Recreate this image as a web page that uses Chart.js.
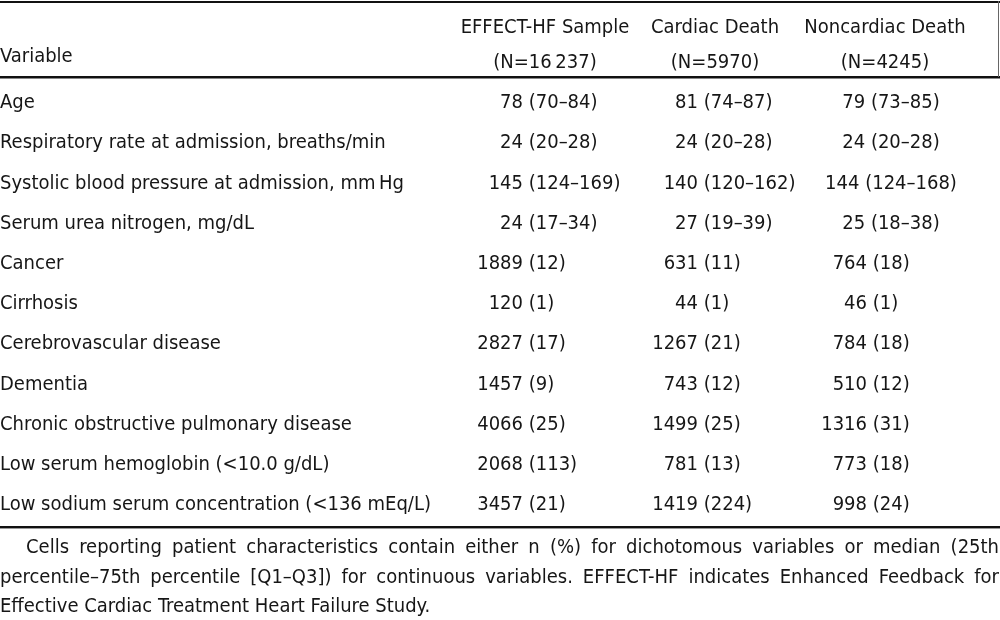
<!DOCTYPE html>
<html>
<head>
<meta charset="utf-8">
<script src="https://cdn.jsdelivr.net/npm/chart.js@4.4.1/dist/chart.umd.min.js"></script>
<style>
  html, body { margin: 0; padding: 0; background: #fff; }
  body { width: 1000px; height: 620px; position: relative; overflow: hidden;
         font-family: "DejaVu Sans Condensed", "Liberation Sans Narrow", sans-serif; color: #161616; }
  #wrap { position: absolute; left: 0; top: 1px; width: 1000px; height: 536px; }
  #note { position: absolute; left: 0; top: 532px; width: 999px; font-size: 20px; line-height: 29.5px; }
  #note div { white-space: nowrap; }
  #note .j { text-align: justify; text-align-last: justify; white-space: normal; }
  #note .first { text-indent: 26px; }
</style>
</head>
<body>
<div id="wrap"><canvas id="c"></canvas></div>
<div id="note">
  <div class="j first">Cells reporting patient characteristics contain either n (%) for dichotomous variables or median (25th</div>
  <div class="j">percentile–75th percentile [Q1–Q3]) for continuous variables. EFFECT-HF indicates Enhanced Feedback for</div>
  <div>Effective Cardiac Treatment Heart Failure Study.</div>
</div>
<script>
// ---- data ----
const variables = [
  'Age',
  'Respiratory rate at admission, breaths/min',
  'Systolic blood pressure at admission, mm\u2009Hg',
  'Serum urea nitrogen, mg/dL',
  'Cancer',
  'Cirrhosis',
  'Cerebrovascular disease',
  'Dementia',
  'Chronic obstructive pulmonary disease',
  'Low serum hemoglobin (<10.0 g/dL)',
  'Low sodium serum concentration (<136 mEq/L)'
];
const rowKinds = ['median','median','median','median','count','count','count','count','count','count','count'];
const groupNames = ['EFFECT-HF Sample', 'Cardiac Death', 'Noncardiac Death'];
const groupNs = ['(N=16\u2009237)', '(N=5970)', '(N=4245)'];
const effectHF = ['78 (70–84)','24 (20–28)','145 (124–169)','24 (17–34)','1889 (12)','120 (1)','2827 (17)','1457 (9)','4066 (25)','2068 (113)','3457 (21)'];
const cardiacDeath = ['81 (74–87)','24 (20–28)','140 (120–162)','27 (19–39)','631 (11)','44 (1)','1267 (21)','743 (12)','1499 (25)','781 (13)','1419 (224)'];
const noncardiacDeath = ['79 (73–85)','24 (20–28)','144 (124–168)','25 (18–38)','764 (18)','46 (1)','784 (18)','510 (12)','1316 (31)','773 (18)','998 (24)'];
const headerLabel = 'Variable';

// ---- styling ----
const FONT = '"DejaVu Sans Condensed", "Liberation Sans Narrow", sans-serif';
const FS = 20;
const INK = '#161616';
const anchorOffset = [-22, -17, -18];          // where the leading number ends, relative to column centre
const medianAlign = ['anchor', 'anchor', 'center'];
const medianCenterOffset = [0, 0, 6];

const columns = [effectHF, cardiacDeath, noncardiacDeath];
const datasets = columns.map((vals, k) => ({
  label: groupNames[k],
  data: vals.map((v, i) => ({ x: groupNames[k], y: variables[i], text: v, kind: rowKinds[i] })),
  pointRadius: 0,
  pointHoverRadius: 0,
  showLine: false
}));

const tablePlugin = {
  id: 'tablePlugin',
  afterDraw(chart) {
    const ctx = chart.ctx;
    const ys = chart.scales.y;
    const W = chart.width;
    ctx.save();
    // rules
    ctx.fillStyle = '#111';
    ctx.fillRect(0, 0, W, 2);
    ctx.fillRect(0, ys.top - 7, W, 2);
    ctx.fillStyle = '#888';
    ctx.fillRect(0, ys.top - 5, W, 1);
    ctx.fillStyle = '#111';
    ctx.fillRect(0, ys.bottom + 1, W, 2);
    ctx.fillStyle = '#999';
    ctx.fillRect(0, ys.bottom + 3, W, 1);
    ctx.fillStyle = '#666';
    ctx.fillRect(W - 2, 0, 1, ys.top - 6);
    // header "Variable"
    ctx.fillStyle = INK;
    ctx.font = FS + 'px ' + FONT;
    ctx.textBaseline = 'middle';
    ctx.textAlign = 'left';
    ctx.fillText(headerLabel, 0, 56);
    // cells
    chart.data.datasets.forEach((ds, k) => {
      const meta = chart.getDatasetMeta(k);
      meta.data.forEach((pt, i) => {
        const d = ds.data[i];
        const sp = d.text.indexOf(' ');
        const num = d.text.slice(0, sp);
        const rest = d.text.slice(sp);
        const y = pt.y;
        if (d.kind === 'median' && medianAlign[k] === 'center') {
          ctx.textAlign = 'center';
          ctx.fillText(d.text, pt.x + medianCenterOffset[k], y);
        } else {
          const ax = pt.x + anchorOffset[k];
          ctx.textAlign = 'right';
          ctx.fillText(num, ax, y);
          ctx.textAlign = 'left';
          ctx.fillText(rest, ax, y);
        }
      });
    });
    ctx.restore();
  }
};

new Chart(document.getElementById('c'), {
  type: 'scatter',
  data: { datasets },
  options: {
    responsive: true,
    maintainAspectRatio: false,
    animation: false,
    events: [],
    layout: { padding: { left: 0, right: 30, top: 0, bottom: 0 } },
    plugins: { legend: { display: false }, tooltip: { enabled: false } },
    scales: {
      x: {
        type: 'category',
        labels: groupNames,
        position: 'top',
        offset: true,
        grid: { display: false, drawTicks: false },
        border: { display: false },
        ticks: {
          autoSkip: false, maxRotation: 0, padding: 3,
          color: INK,
          font: { family: FONT, size: FS, lineHeight: 1.75 },
          callback: (v, i) => [groupNames[i], groupNs[i]]
        },
        afterFit: (s) => { s.height = 82; }
      },
      y: {
        type: 'category',
        labels: variables,
        offset: true,
        grid: { display: false, drawTicks: false },
        border: { display: false },
        ticks: {
          autoSkip: false, crossAlign: 'far', padding: 0,
          color: INK,
          font: { family: FONT, size: FS }
        },
        afterFit: (s) => { s.width = 460; }
      }
    }
  },
  plugins: [tablePlugin]
});
</script>
</body>
</html>
